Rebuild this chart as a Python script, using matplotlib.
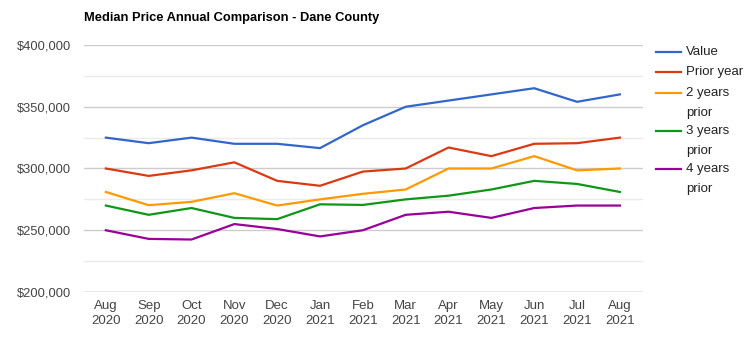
import numpy as np
import matplotlib
matplotlib.use("Agg")
import matplotlib.pyplot as plt
from matplotlib.lines import Line2D
from matplotlib.ticker import FuncFormatter, MultipleLocator

plt.rcParams["font.family"] = ["Liberation Sans", "DejaVu Sans"]

months = ["Aug\n2020", "Sep\n2020", "Oct\n2020", "Nov\n2020", "Dec\n2020", "Jan\n2021",
          "Feb\n2021", "Mar\n2021", "Apr\n2021", "May\n2021", "Jun\n2021", "Jul\n2021",
          "Aug\n2021"]

value = [325000, 320500, 325000, 320000, 320000, 316500, 335000, 350000, 355000, 360000,
         365000, 354000, 360000]
prior_1 = [300000, 294000, 298500, 305000, 290000, 286000, 297500, 300000, 317000, 310000,
           320000, 320500, 325000]
prior_2 = [281000, 270300, 273000, 280000, 270000, 275000, 279500, 283000, 300000, 300000,
           310000, 298500, 300000]
prior_3 = [270000, 262500, 268000, 260000, 259000, 271000, 270500, 275000, 278000, 283000,
           290000, 287500, 281000]
prior_4 = [250000, 243000, 242500, 255000, 251000, 245000, 250000, 262500, 265000, 260000,
           268000, 270000, 270000]

series = [
    ("Value", value, "#3366cc"),
    ("Prior year", prior_1, "#dc3912"),
    ("2 years\nprior", prior_2, "#ff9900"),
    ("3 years\nprior", prior_3, "#109618"),
    ("4 years\nprior", prior_4, "#990099"),
]

W, H = 752, 344
fig = plt.figure(figsize=(W / 100, H / 100), dpi=100)
ax = fig.add_axes([84 / W, 1 - 292 / H, (643 - 84) / W, (292 - 45) / H])

x = np.arange(len(months))
for name, vals, col in series:
    ax.plot(x, vals, color=col, lw=1.6, solid_joinstyle="round")

ax.set_xlim(-0.51, 12.54)
ax.set_ylim(200000, 400000)
ax.yaxis.set_major_locator(MultipleLocator(50000))
ax.yaxis.set_minor_locator(MultipleLocator(25000))
ax.yaxis.set_major_formatter(FuncFormatter(lambda v, p: f"${v:,.0f}"))
ax.grid(axis="y", which="major", color="#cccccc", lw=1)
ax.grid(axis="y", which="minor", color="#ebebeb", lw=1)
ax.axhline(200000, color="#bbbbbb", lw=1)
ax.set_axisbelow(True)
for s in ax.spines.values():
    s.set_visible(False)
ax.set_xticks(x)
ax.set_xticklabels(months)
ax.tick_params(axis="both", which="both", length=0, labelsize=9.5, colors="#444444")
ax.tick_params(axis="y", pad=9.5, labelsize=9.3)
ax.tick_params(axis="x", pad=6)
for t in ax.get_xticklabels():
    t.set_linespacing(1.3)

fig.text(84 / W, 1 - 18 / H, "Median Price Annual Comparison - Dane County",
         fontsize=9.3, fontweight="bold", color="#000000", va="center", ha="left")

# legend, drawn by hand to get the wrapped labels like the original
leg_y = [52, 72, 93, 131, 169]
for (name, vals, col), yy in zip(series, leg_y):
    fy = 1 - yy / H
    fig.add_artist(Line2D([656 / W, 681 / W], [fy, fy], color=col, lw=1.6,
                          transform=fig.transFigure))
    for i, line in enumerate(name.split("\n")):
        fig.text(686 / W, 1 - (yy + 20 * i) / H, line, fontsize=9.5, color="#222222",
                 va="center", ha="left")

fig.savefig("out.png", dpi=100)
